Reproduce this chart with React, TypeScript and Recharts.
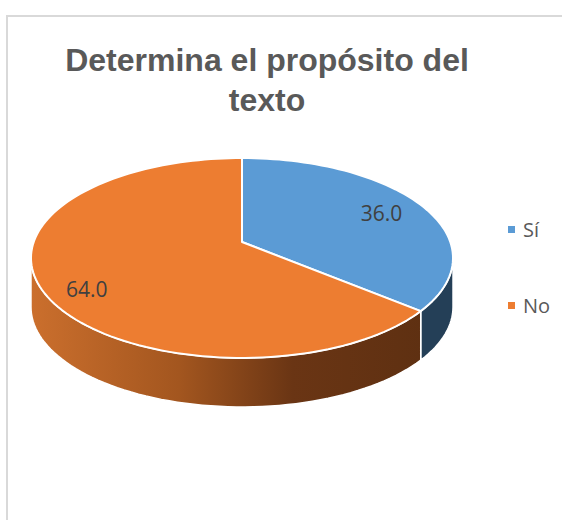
import React from "react";
import { PieChart, Pie, Cell, Legend } from "recharts";

// data
const categories = ["Sí", "No"];
const values = [36.0, 64.0];
const colors = ["#5B9BD5", "#ED7D31"];
const sideColors = ["#243F57", "url(#sideOrange)"];

const data = categories.map((name, i) => ({ name, value: values[i] }));

// fake 3d look: squashed, slightly perspective ellipse with a side wall
const SX = 2.083;
const SY = 0.974;
const PERSP = 0.16;
const DEPTH = 49;
const EDGE = (Math.asin(PERSP) * 180) / Math.PI;
const FRONT_LO = -180 + EDGE;
const FRONT_HI = -EDGE;

type Pt = { x: number; y: number };

function project(cx: number, cy: number, r: number, angle: number, f = 1): Pt {
  const rad = (-angle * Math.PI) / 180;
  const u = Math.cos(rad) * f;
  const v = Math.sin(rad) * f;
  const w = 1 - PERSP * v;
  return { x: cx + (SX * r * u) / w, y: cy + (SY * r * v) / w };
}

function arcPoints(cx: number, cy: number, r: number, a1: number, a2: number): Pt[] {
  const n = Math.max(2, Math.ceil(Math.abs(a2 - a1) / 2));
  const pts: Pt[] = [];
  for (let i = 0; i <= n; i++) pts.push(project(cx, cy, r, a1 + ((a2 - a1) * i) / n));
  return pts;
}

const toPath = (pts: Pt[]) =>
  pts.map((p, i) => `${i ? "L" : "M"}${p.x.toFixed(2)},${p.y.toFixed(2)}`).join(" ") + " Z";

function Slice3D(props: any) {
  const { cx, cy, outerRadius, startAngle, endAngle, fill } = props;
  const idx = colors.indexOf(fill);
  const side = sideColors[idx] ?? fill;
  const lo = Math.min(startAngle, endAngle);
  const hi = Math.max(startAngle, endAngle);

  const walls: Pt[][] = [];
  for (const s of [-360, 0, 360]) {
    const a1 = Math.max(lo, FRONT_LO + s);
    const a2 = Math.min(hi, FRONT_HI + s);
    if (a2 > a1) {
      const edge = arcPoints(cx, cy, outerRadius, a2, a1);
      const bottom = edge
        .slice()
        .reverse()
        .map((p) => ({ x: p.x, y: p.y + DEPTH }));
      walls.push([...edge, ...bottom]);
    }
  }
  const top = [{ x: cx, y: cy }, ...arcPoints(cx, cy, outerRadius, startAngle, endAngle)];

  return (
    <g>
      <defs>
        <linearGradient id="sideOrange" gradientUnits="userSpaceOnUse" x1={31} y1={0} x2={453} y2={0}>
          <stop offset="0" stopColor="#CB6F2D" />
          <stop offset="0.35" stopColor="#A3561F" />
          <stop offset="0.62" stopColor="#6A3514" />
          <stop offset="1" stopColor="#5C2F11" />
        </linearGradient>
      </defs>
      {walls.map((w, i) => (
        <path key={i} d={toPath(w)} fill={side} stroke="#FFFFFF" strokeWidth={1.5} strokeLinejoin="round" />
      ))}
      <path d={toPath(top)} fill={fill} stroke="#FFFFFF" strokeWidth={2} strokeLinejoin="round" />
    </g>
  );
}

const renderLabel = (p: any) => {
  const { cx, cy, outerRadius, midAngle, value } = p;
  const pt = project(cx, cy, outerRadius, midAngle, 0.78);
  const dy = 7 + 13 * Math.sin((-midAngle * Math.PI) / 180);
  return (
    <text
      x={pt.x}
      y={pt.y + dy}
      textAnchor="middle"
      dominantBaseline="central"
      fill="#404040"
      fontSize={21}
      fontFamily="'Open Sans', sans-serif"
    >
      {Number(value).toFixed(1)}
    </text>
  );
};

const renderLegend = () => (
  <div>
    {categories.map((c, i) => (
      <div key={c} style={{ display: "flex", alignItems: "center", height: 30, marginBottom: 46 }}>
        <span style={{ width: 7, height: 7, background: colors[i], marginRight: 8, display: "inline-block" }} />
        <span style={{ fontFamily: "'Open Sans', sans-serif", fontSize: 20, color: "#595959" }}>{c}</span>
      </div>
    ))}
  </div>
);

export default function App() {
  return (
    <div style={{ position: "fixed", left: 0, top: 0, width: 562, height: 520, overflow: "hidden", background: "#fff" }}>
      <div
        style={{
          position: "absolute",
          left: 6,
          top: 15,
          width: 700,
          height: 700,
          border: "2px solid #D9D9D9",
        }}
      />
      <div
        style={{
          position: "absolute",
          left: 0,
          top: 40,
          width: 534,
          textAlign: "center",
          fontFamily: "'Liberation Sans', Arial, sans-serif",
          fontWeight: "bold",
          fontSize: 32,
          lineHeight: "40px",
          color: "#595959",
        }}
      >
        Determina el propósito del
        <br />
        texto
      </div>
      <div style={{ position: "absolute", left: 0, top: 0 }}>
        <PieChart width={562} height={520} margin={{ top: 0, right: 0, bottom: 0, left: 0 }}>
          <Pie
            data={data}
            dataKey="value"
            nameKey="name"
            cx={242}
            cy={242}
            outerRadius={100}
            startAngle={90}
            endAngle={-270}
            shape={Slice3D}
            label={renderLabel}
            labelLine={false}
            isAnimationActive={false}
          >
            {data.map((d, i) => (
              <Cell key={d.name} fill={colors[i]} />
            ))}
          </Pie>
          <Legend
            layout="vertical"
            align="right"
            verticalAlign="top"
            content={renderLegend}
            wrapperStyle={{ left: 508, top: 214, width: 60 }}
          />
        </PieChart>
      </div>
    </div>
  );
}
